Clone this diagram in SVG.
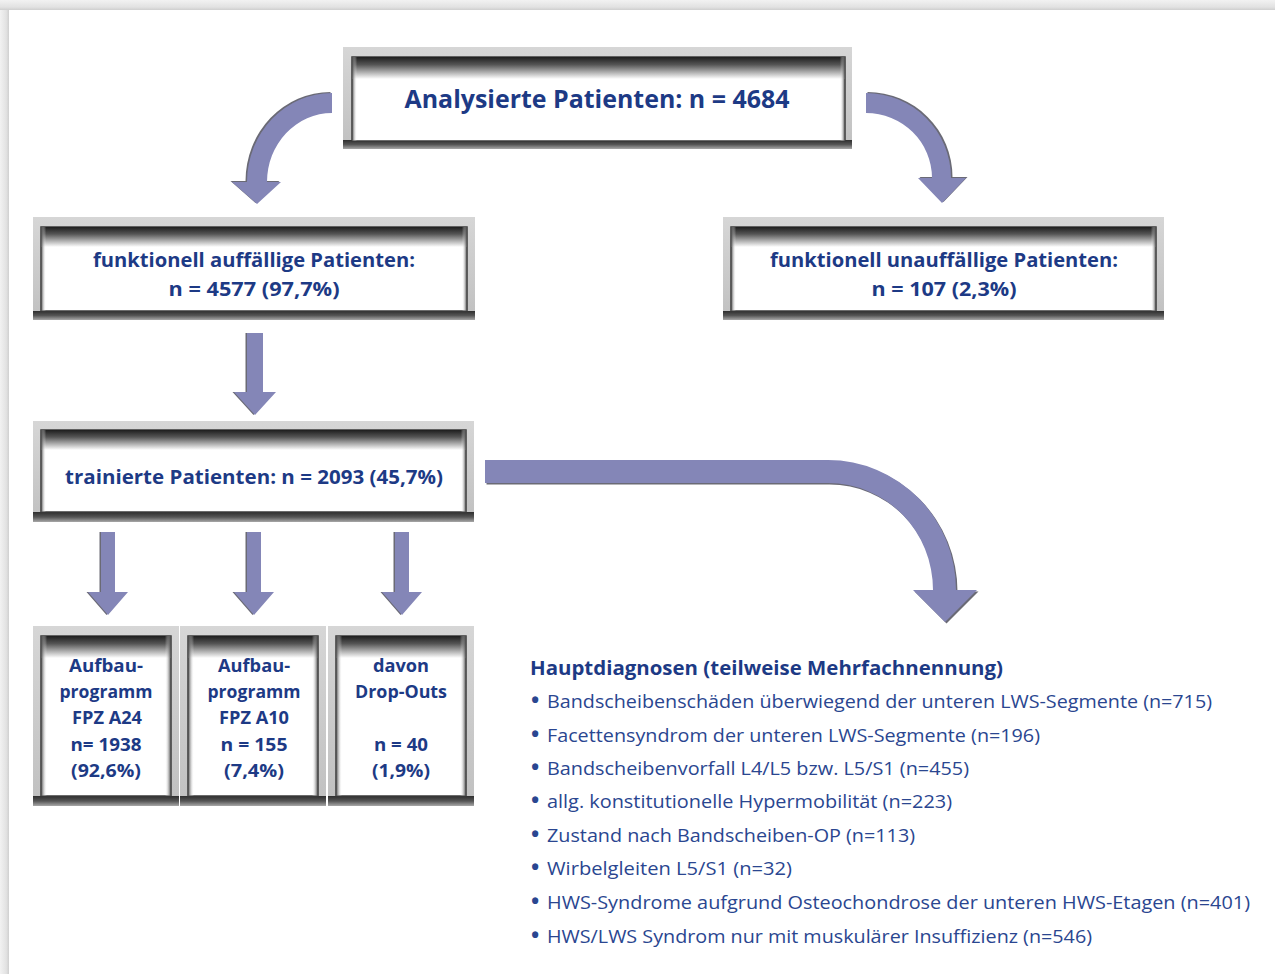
<svg xmlns="http://www.w3.org/2000/svg" xmlns:xlink="http://www.w3.org/1999/xlink" width="1275" height="974" viewBox="0 0 1275 974">
<defs>
<linearGradient id="pageTop" x1="0" y1="0" x2="0" y2="1"><stop offset="0" stop-color="#f2f2f2"/><stop offset="0.7" stop-color="#e2e2e2"/><stop offset="1" stop-color="#cfcfcf"/></linearGradient>
<linearGradient id="pageLeft" x1="0" y1="0" x2="1" y2="0"><stop offset="0" stop-color="#f2f2f2"/><stop offset="0.7" stop-color="#e2e2e2"/><stop offset="1" stop-color="#cfcfcf"/></linearGradient>
<linearGradient id="topShade" x1="0" y1="0" x2="0" y2="1"><stop offset="0" stop-color="#1e1e1e"/><stop offset="0.35" stop-color="#555"/><stop offset="1" stop-color="#ffffff"/></linearGradient>
<linearGradient id="frameGrad" x1="0" y1="0" x2="0" y2="1"><stop offset="0" stop-color="#d6d6d6"/><stop offset="1" stop-color="#c0c0c0"/></linearGradient>
<linearGradient id="bottomShade" x1="0" y1="0" x2="0" y2="1"><stop offset="0" stop-color="#2e2e2e"/><stop offset="0.5" stop-color="#555"/><stop offset="1" stop-color="#a8a8a8"/></linearGradient>
<linearGradient id="sideL" x1="0" y1="0" x2="1" y2="0"><stop offset="0" stop-color="#444"/><stop offset="1" stop-color="#fff" stop-opacity="0"/></linearGradient>
<linearGradient id="sideR" x1="1" y1="0" x2="0" y2="0"><stop offset="0" stop-color="#444"/><stop offset="1" stop-color="#fff" stop-opacity="0"/></linearGradient>
<path id="aLeft" d="M332,93 A85,89 0 0 0 247,182 H232 L257,204 L281,182 H267 A65,69 0 0 1 332,113 Z"/>
<path id="aRight" d="M866,93 A85,85 0 0 1 951,178 H966 L942,203 L918,178 H932 A66,65 0 0 0 866,113 Z"/>
<path id="aMid" d="M247,333 H263 V392 H276 L255,415 L234,392 H247 Z"/>
<path id="aS1" d="M101,532 H115 V592 H128 L108,615 L88,592 H101 Z"/>
<path id="aS2" d="M247,532 H261 V592 H274 L254,615 L234,592 H247 Z"/>
<path id="aS3" d="M395,532 H409 V592 H422 L402,615 L382,592 H395 Z"/>
<path id="aBig" d="M485,460 H828 A128,130 0 0 1 956,590 H977 L945,622 L913,590 H933 A105,107 0 0 0 828,483 H485 Z"/>
</defs>
<style>
.frame{fill:url(#frameGrad)}
.fbot{fill:url(#bottomShade)}
.inner{fill:#fff;stroke:#3a3a3a;stroke-width:1.5}
.itop{fill:url(#topShade)}
.sl{fill:url(#sideL)}
.sr{fill:url(#sideR)}
.t{font-family:"Open Sans","Liberation Sans",sans-serif;font-weight:700;fill:#1d3a85;text-anchor:middle}
.li{font-family:"Open Sans","Liberation Sans",sans-serif;font-weight:400;fill:#2a4690;font-size:19px}
.b{font-weight:700;font-size:22px}
.arrow{fill:#8486b7}
.shadow{fill:#2b2b3a;opacity:0.7}
</style>
<rect x="0" y="0" width="1275" height="974" fill="#ffffff"/>
<rect x="0" y="0" width="1275" height="10" fill="url(#pageTop)"/>
<rect x="0" y="10" width="9" height="964" fill="url(#pageLeft)"/>

<g id="connectors">
<use xlink:href="#aLeft" class="shadow" transform="translate(-1.5,-1)"/>
<use xlink:href="#aLeft" class="arrow"/>
<use xlink:href="#aRight" class="shadow" transform="translate(1.5,-1)"/>
<use xlink:href="#aRight" class="arrow"/>
<use xlink:href="#aMid" class="shadow" transform="translate(-1.5,0)"/>
<use xlink:href="#aMid" class="arrow"/>
<use xlink:href="#aS1" class="shadow" transform="translate(-1.5,0)"/>
<use xlink:href="#aS1" class="arrow"/>
<use xlink:href="#aS2" class="shadow" transform="translate(-1.5,0)"/>
<use xlink:href="#aS2" class="arrow"/>
<use xlink:href="#aS3" class="shadow" transform="translate(-1.5,0)"/>
<use xlink:href="#aS3" class="arrow"/>
<use xlink:href="#aBig" class="shadow" transform="translate(1.5,1.5)"/>
<use xlink:href="#aBig" class="arrow"/>
</g>

<g id="n-analysiert">
<rect class="frame" x="343" y="47" width="509" height="102"/>
<rect class="fbot" x="343" y="140" width="509" height="9"/>
<rect class="inner" x="352" y="57" width="493" height="84"/>
<rect class="itop" x="352" y="57" width="493" height="22"/>
<rect class="sl" x="352" y="57" width="5" height="84"/>
<rect class="sr" x="840" y="57" width="5" height="84"/>
<text class="t" x="597" y="108" font-size="25" textLength="385" lengthAdjust="spacingAndGlyphs">Analysierte Patienten: n = 4684</text>
</g>

<g id="n-auffaellig">
<rect class="frame" x="33" y="217" width="442" height="103"/>
<rect class="fbot" x="33" y="311" width="442" height="9"/>
<rect class="inner" x="41" y="227" width="426" height="84"/>
<rect class="itop" x="41" y="227" width="426" height="20"/>
<rect class="sl" x="41" y="227" width="5" height="84"/>
<rect class="sr" x="462" y="227" width="5" height="84"/>
<text class="t" x="254" y="267" font-size="20" textLength="322" lengthAdjust="spacingAndGlyphs">funktionell auffällige Patienten:</text>
<text class="t" x="254" y="296" font-size="20" textLength="171" lengthAdjust="spacingAndGlyphs">n = 4577 (97,7%)</text>
</g>

<g id="n-unauffaellig">
<rect class="frame" x="723" y="217" width="441" height="103"/>
<rect class="fbot" x="723" y="311" width="441" height="9"/>
<rect class="inner" x="731" y="227" width="425" height="84"/>
<rect class="itop" x="731" y="227" width="425" height="20"/>
<rect class="sl" x="731" y="227" width="5" height="84"/>
<rect class="sr" x="1151" y="227" width="5" height="84"/>
<text class="t" x="944" y="267" font-size="20" textLength="348" lengthAdjust="spacingAndGlyphs">funktionell unauffällige Patienten:</text>
<text class="t" x="944" y="296" font-size="20" textLength="145" lengthAdjust="spacingAndGlyphs">n = 107 (2,3%)</text>
</g>

<g id="n-trainiert">
<rect class="frame" x="33" y="421" width="441" height="101"/>
<rect class="fbot" x="33" y="512" width="441" height="10"/>
<rect class="inner" x="41" y="430" width="425" height="82"/>
<rect class="itop" x="41" y="430" width="425" height="20"/>
<rect class="sl" x="41" y="430" width="5" height="82"/>
<rect class="sr" x="461" y="430" width="5" height="82"/>
<text class="t" x="254" y="484" font-size="20" textLength="378" lengthAdjust="spacingAndGlyphs">trainierte Patienten: n = 2093 (45,7%)</text>
</g>

<g id="n-a24">
<rect class="frame" x="33" y="626" width="146" height="180"/>
<rect class="fbot" x="33" y="796" width="146" height="10"/>
<rect class="inner" x="41" y="636" width="130" height="160"/>
<rect class="itop" x="41" y="636" width="130" height="22"/>
<rect class="sl" x="41" y="636" width="6" height="160"/>
<rect class="sr" x="165" y="636" width="6" height="160"/>
<text class="t" x="106" y="672" font-size="18" textLength="74" lengthAdjust="spacingAndGlyphs">Aufbau-</text>
<text class="t" x="106" y="698" font-size="18" textLength="93" lengthAdjust="spacingAndGlyphs">programm</text>
<text class="t" x="107" y="724" font-size="18" textLength="70" lengthAdjust="spacingAndGlyphs">FPZ A24</text>
<text class="t" x="106" y="751" font-size="18" textLength="71" lengthAdjust="spacingAndGlyphs">n= 1938</text>
<text class="t" x="106" y="777" font-size="18" textLength="70" lengthAdjust="spacingAndGlyphs">(92,6%)</text>
</g>

<g id="n-a10">
<rect class="frame" x="180" y="626" width="146" height="180"/>
<rect class="fbot" x="180" y="796" width="146" height="10"/>
<rect class="inner" x="188" y="636" width="130" height="160"/>
<rect class="itop" x="188" y="636" width="130" height="22"/>
<rect class="sl" x="188" y="636" width="6" height="160"/>
<rect class="sr" x="312" y="636" width="6" height="160"/>
<text class="t" x="254" y="672" font-size="18" textLength="72" lengthAdjust="spacingAndGlyphs">Aufbau-</text>
<text class="t" x="254" y="698" font-size="18" textLength="93" lengthAdjust="spacingAndGlyphs">programm</text>
<text class="t" x="254" y="724" font-size="18" textLength="70" lengthAdjust="spacingAndGlyphs">FPZ A10</text>
<text class="t" x="254" y="751" font-size="18" textLength="67" lengthAdjust="spacingAndGlyphs">n = 155</text>
<text class="t" x="254" y="777" font-size="18" textLength="60" lengthAdjust="spacingAndGlyphs">(7,4%)</text>
</g>

<g id="n-dropouts">
<rect class="frame" x="328" y="626" width="146" height="180"/>
<rect class="fbot" x="328" y="796" width="146" height="10"/>
<rect class="inner" x="336" y="636" width="130" height="160"/>
<rect class="itop" x="336" y="636" width="130" height="22"/>
<rect class="sl" x="336" y="636" width="6" height="160"/>
<rect class="sr" x="460" y="636" width="6" height="160"/>
<text class="t" x="401" y="672" font-size="18" textLength="56" lengthAdjust="spacingAndGlyphs">davon</text>
<text class="t" x="401" y="698" font-size="18" textLength="92" lengthAdjust="spacingAndGlyphs">Drop-Outs</text>
<text class="t" x="401" y="751" font-size="18" textLength="54" lengthAdjust="spacingAndGlyphs">n = 40</text>
<text class="t" x="401" y="777" font-size="18" textLength="58" lengthAdjust="spacingAndGlyphs">(1,9%)</text>
</g>

<g id="n-hauptdiagnosen">
<text class="t" x="530" y="675" font-size="20" style="text-anchor:start" textLength="473" lengthAdjust="spacingAndGlyphs">Hauptdiagnosen (teilweise Mehrfachnennung)</text>
<text class="li" x="531" y="708"><tspan class="b">•</tspan><tspan x="547" textLength="665" lengthAdjust="spacingAndGlyphs">Bandscheibenschäden überwiegend der unteren LWS-Segmente (n=715)</tspan></text>
<text class="li" x="531" y="742"><tspan class="b">•</tspan><tspan x="547" textLength="493" lengthAdjust="spacingAndGlyphs">Facettensyndrom der unteren LWS-Segmente (n=196)</tspan></text>
<text class="li" x="531" y="775"><tspan class="b">•</tspan><tspan x="547" textLength="422" lengthAdjust="spacingAndGlyphs">Bandscheibenvorfall L4/L5 bzw. L5/S1 (n=455)</tspan></text>
<text class="li" x="531" y="808"><tspan class="b">•</tspan><tspan x="547" textLength="405" lengthAdjust="spacingAndGlyphs">allg. konstitutionelle Hypermobilität (n=223)</tspan></text>
<text class="li" x="531" y="842"><tspan class="b">•</tspan><tspan x="547" textLength="368" lengthAdjust="spacingAndGlyphs">Zustand nach Bandscheiben-OP (n=113)</tspan></text>
<text class="li" x="531" y="875"><tspan class="b">•</tspan><tspan x="547" textLength="245" lengthAdjust="spacingAndGlyphs">Wirbelgleiten L5/S1 (n=32)</tspan></text>
<text class="li" x="531" y="909"><tspan class="b">•</tspan><tspan x="547" textLength="703" lengthAdjust="spacingAndGlyphs">HWS-Syndrome aufgrund Osteochondrose der unteren HWS-Etagen (n=401)</tspan></text>
<text class="li" x="531" y="943"><tspan class="b">•</tspan><tspan x="547" textLength="545" lengthAdjust="spacingAndGlyphs">HWS/LWS Syndrom nur mit muskulärer Insuffizienz (n=546)</tspan></text>
</g>
</svg>
